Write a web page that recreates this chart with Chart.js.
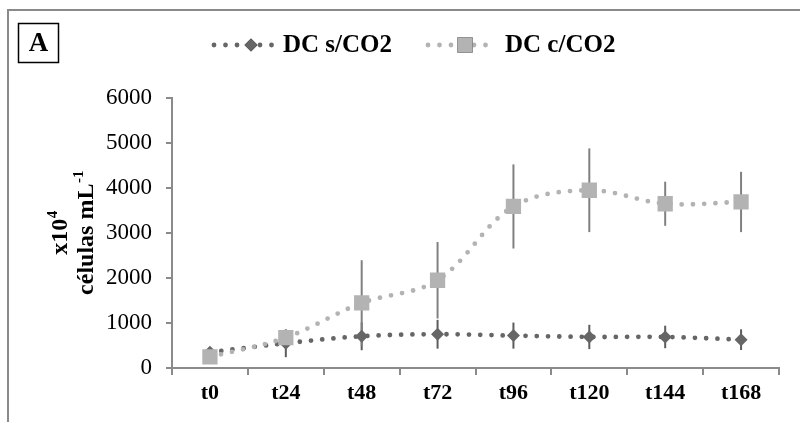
<!DOCTYPE html>
<html>
<head>
<meta charset="utf-8">
<script src="https://cdn.jsdelivr.net/npm/chart.js@4.4.1/dist/chart.umd.min.js"></script>
<style>
  html, body { margin: 0; padding: 0; background: #fff; }
  #wrap { width: 800px; height: 422px; position: relative; }
</style>
</head>
<body>
<div id="wrap"><canvas id="c" width="800" height="422"></canvas></div>
<script>
// Cell density over time (x10^4 cells per mL), mean ± SD
const categories = ['t0', 't24', 't48', 't72', 't96', 't120', 't144', 't168'];
const seriesNames = ['DC s/CO2', 'DC c/CO2'];
const semCO2 = [350, 550, 705, 750, 720, 690, 690, 630];
const semCO2Err = [115, 310, 310, 320, 290, 270, 250, 230];
const comCO2 = [245, 675, 1445, 1950, 3590, 3950, 3650, 3690];
const comCO2Err = [60, 120, 950, 850, 935, 930, 490, 670];
const yTicks = [0, 1000, 2000, 3000, 4000, 5000, 6000];

const SERIF = '"Liberation Serif", "Times New Roman", serif';
const DARK = '#666666';
const LIGHT = '#b3b3b3';

// Vertical error bars, drawn beneath all lines and markers
const errorBars = {
  id: 'errorBars',
  beforeDatasetsDraw(chart) {
    const ctx = chart.ctx;
    const y = chart.scales.y;
    chart.data.datasets.forEach((ds, i) => {
      const meta = chart.getDatasetMeta(i);
      ctx.save();
      ctx.strokeStyle = ds.errColor;
      ctx.lineWidth = 2;
      meta.data.forEach((pt, j) => {
        const v = ds.data[j], e = ds.errors[j];
        ctx.beginPath();
        ctx.moveTo(pt.x, y.getPixelForValue(v + e));
        ctx.lineTo(pt.x, y.getPixelForValue(v - e));
        ctx.stroke();
      });
      ctx.restore();
    });
  }
};

// Outer frame, panel letter, legend and the two-line y-axis title
const decorations = {
  id: 'decorations',
  afterDraw(chart) {
    const ctx = chart.ctx;
    ctx.save();
    // frame
    ctx.strokeStyle = '#8a8a8a';
    ctx.lineWidth = 2;
    ctx.beginPath();
    ctx.moveTo(8, 422);
    ctx.lineTo(8, 10);
    ctx.lineTo(800, 10);
    ctx.stroke();

    // panel letter
    ctx.strokeStyle = '#000';
    ctx.lineWidth = 1.5;
    ctx.strokeRect(18.5, 23.5, 40, 39);
    ctx.fillStyle = '#000';
    ctx.font = 'bold 27px ' + SERIF;
    ctx.textAlign = 'center';
    ctx.textBaseline = 'middle';
    ctx.fillText('A', 38.5, 44);

    // legend
    const items = [
      { x0: 214, x1: 278, mx: 251, ds: chart.data.datasets[0], tx: 283 },
      { x0: 428, x1: 490, mx: 465, ds: chart.data.datasets[1], tx: 505 }
    ];
    const ly = 45;
    items.forEach(it => {
      ctx.save();
      ctx.strokeStyle = it.ds.borderColor;
      ctx.lineWidth = 4.8;
      ctx.lineCap = 'round';
      ctx.setLineDash([0, 11.5]);
      ctx.beginPath();
      ctx.moveTo(it.x0, ly);
      ctx.lineTo(it.x1, ly);
      ctx.stroke();
      ctx.restore();
      Chart.helpers.drawPoint(ctx, {
        pointStyle: it.ds.pointStyle,
        radius: it.ds.pointRadius,
        rotation: 0,
        borderWidth: 0
      }, it.mx, ly);
      ctx.fillStyle = it.ds.pointBackgroundColor;
      ctx.fill();
      ctx.fillStyle = '#000';
      ctx.font = 'bold 25px ' + SERIF;
      ctx.textAlign = 'left';
      ctx.textBaseline = 'middle';
      ctx.fillText(it.ds.label, it.tx, ly + 1);
    });

    // y-axis title with superscripts
    const cy = (chart.chartArea.top + chart.chartArea.bottom) / 2;
    const lines = [
      { x: 59, main: 'x10', sup: '4' },
      { x: 85, main: 'células mL', sup: '-1' }
    ];
    lines.forEach(l => {
      ctx.save();
      ctx.translate(l.x, cy);
      ctx.rotate(-Math.PI / 2);
      ctx.fillStyle = '#000';
      ctx.textBaseline = 'alphabetic';
      ctx.textAlign = 'left';
      ctx.font = 'bold 24px ' + SERIF;
      const wMain = ctx.measureText(l.main).width;
      ctx.font = 'bold 15px ' + SERIF;
      const wSup = ctx.measureText(l.sup).width;
      const start = -(wMain + wSup) / 2;
      ctx.font = 'bold 24px ' + SERIF;
      ctx.fillText(l.main, start, 8);
      ctx.font = 'bold 15px ' + SERIF;
      ctx.fillText(l.sup, start + wMain + 0.5, -2);
      ctx.restore();
    });
    ctx.restore();
  }
};

const dotted = {
  borderWidth: 4.8,
  borderDash: [0, 11.3],
  borderCapStyle: 'round',
  tension: 0.35,
  fill: false
};

new Chart(document.getElementById('c'), {
  type: 'line',
  data: {
    labels: categories,
    datasets: [
      Object.assign({
        label: seriesNames[0],
        data: semCO2,
        errors: semCO2Err,
        errColor: '#5c5c5c',
        borderColor: DARK,
        pointStyle: 'rectRot',
        pointRadius: 6.5,
        pointHoverRadius: 6.5,
        pointBorderWidth: 0,
        pointBackgroundColor: DARK,
        order: 2
      }, dotted),
      Object.assign({
        label: seriesNames[1],
        data: comCO2,
        errors: comCO2Err,
        errColor: '#808080',
        borderColor: LIGHT,
        pointStyle: 'rect',
        pointRadius: 10.8,
        pointHoverRadius: 10.8,
        pointBorderWidth: 0,
        pointBackgroundColor: LIGHT,
        order: 1
      }, dotted)
    ]
  },
  options: {
    responsive: false,
    animation: false,
    events: [],
    layout: { padding: { left: 0, right: 21, top: 98, bottom: 0 } },
    plugins: {
      legend: { display: false },
      tooltip: { enabled: false }
    },
    scales: {
      x: {
        type: 'category',
        offset: true,
        grid: {
          offset: true,
          drawOnChartArea: false,
          drawTicks: true,
          tickLength: 7,
          color: '#8a8a8a',
          lineWidth: 2
        },
        border: { color: '#8a8a8a', width: 2 },
        ticks: {
          color: '#000',
          padding: 5,
          maxRotation: 0,
          font: { family: SERIF, size: 22, weight: 'bold' }
        },
        afterFit(scale) { scale.height = 54; }
      },
      y: {
        min: 0,
        max: 6000,
        afterBuildTicks(scale) { scale.ticks = yTicks.map(v => ({ value: v })); },
        grid: {
          drawOnChartArea: false,
          drawTicks: true,
          tickLength: 6,
          color: '#8a8a8a',
          lineWidth: 2
        },
        border: { color: '#8a8a8a', width: 2 },
        ticks: {
          color: '#000',
          padding: 14,
          font: { family: SERIF, size: 23 },
          callback: (v) => String(v)
        },
        afterFit(scale) { scale.width = 172; }
      }
    }
  },
  plugins: [errorBars, decorations]
});
</script>
</body>
</html>
